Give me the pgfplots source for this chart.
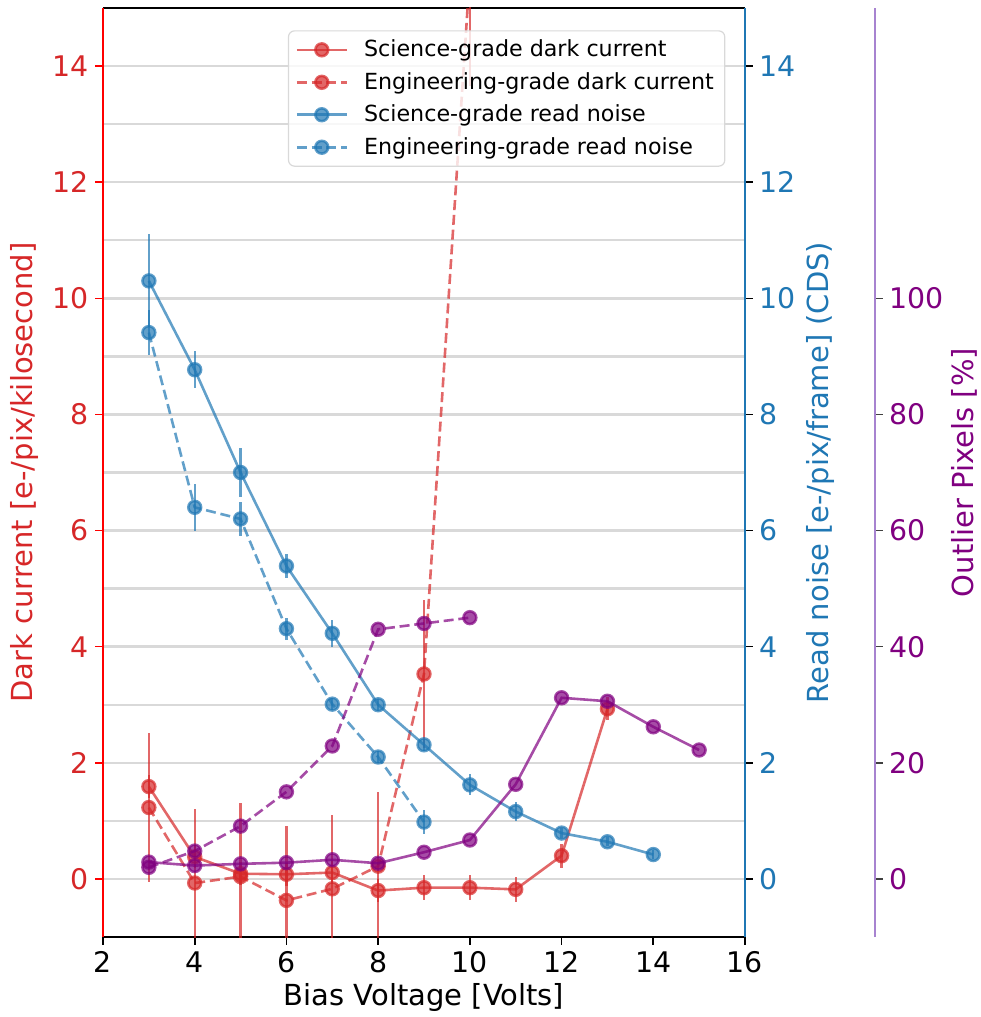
\documentclass[border=0pt]{standalone}
\usepackage{fontspec}
\setmainfont{DejaVu Sans}
\usepackage{pgfplots}
\pgfplotsset{compat=1.18}
\usepackage{pgfplotstable}
\definecolor{cred}{HTML}{D62728}
\definecolor{cblue}{HTML}{1F77B4}
\definecolor{cpurp}{HTML}{800080}
\definecolor{cspine}{HTML}{A783D0}
\definecolor{cgrid}{HTML}{D9D9D9}

\pgfplotstableread{
x y e
3 1.59 0.2
4 0.38 0.2
5 0.09 0.2
6 0.08 0.2
7 0.11 0.2
8 -0.20 0.2
9 -0.15 0.22
10 -0.15 0.22
11 -0.18 0.22
12 0.40 0.21
13 2.93 0.2
}\sdc
\pgfplotstableread{
x y e
3 1.23 1.28
4 -0.07 1.28
5 0.04 1.27
6 -0.37 1.28
7 -0.17 1.27
8 0.22 1.28
9 3.53 1.27
10 15.6 1.95
}\edc
\pgfplotstableread{
x y e
3 10.30 0.8
4 8.77 0.32
5 7.00 0.42
6 5.39 0.2
7 4.23 0.23
8 3.00 0.1
9 2.31 0.1
10 1.62 0.18
11 1.16 0.17
12 0.79 0.08
13 0.64 0.08
14 0.42 0.08
}\srn
\pgfplotstableread{
x y e
3 9.41 0.39
4 6.40 0.4
5 6.20 0.3
6 4.31 0.19
7 3.01 0.1
8 2.10 0.1
9 0.98 0.2
}\ern
\pgfplotstableread{
x y
3 2.9
4 2.3
5 2.6
6 2.8
7 3.3
8 2.7
9 4.6
10 6.7
11 16.3
12 31.2
13 30.6
14 26.2
15 22.2
}\sop
\pgfplotstableread{
x y
3 2.0
4 4.8
5 9.1
6 15.0
7 22.9
8 43.0
9 44.0
10 45.0
}\eop

\pgfplotsset{
  common/.style={
    scale only axis, width=321pt, height=464.5pt,
    xmin=2, xmax=16,
    tick align=outside, major tick length=3.8pt, minor tick length=0pt,
    every tick/.style={line width=0.8pt},
    tick label style={font=\fontsize{14.2}{16}\selectfont},
    label style={font=\fontsize{14.5}{17}\selectfont},
    /pgf/number format/assume math mode=true,
    clip marker paths=true,
  },
  mk/.style={mark=*, mark size=3.2pt, line width=1.3pt, opacity=0.7, mark options={solid}},
  dsh/.style={dash pattern=on 5pt off 2.4pt},
  eb/.style={error bars/y dir=both, error bars/y explicit, error bars/error mark=none,
    error bars/error bar style={line width=1.2pt, solid, opacity=0.7}},
}

\begin{document}
\begin{tikzpicture}
\path[use as bounding box] (-51.5pt,-40pt) rectangle (438.5pt,468.5pt);

% main axis: dark current
\begin{axis}[common,
  ymin=-1, ymax=15, ytick={0,2,...,14}, minor ytick={1,3,...,13},
  xtick={2,4,...,16},
  ymajorgrids, yminorgrids,
  major grid style={cgrid, line width=1.2pt},
  minor grid style={cgrid, line width=1.2pt},
  xtick pos=bottom, ytick pos=left,
  separate axis lines,
  x axis line style={black, line width=0.8pt},
  y axis line style={red, line width=0.8pt},
  every y tick/.append style={red},
  yticklabel style={cred},
  ylabel={Dark current [e-/pix/kilosecond]},
  ylabel style={cred, at={(axis description cs:-0.1215,0.5)}, anchor=center},
  xlabel={Bias Voltage [Volts]},
  xlabel style={at={(axis description cs:0.5,-0.0646)}, anchor=center},
]
\addplot[cred, mk, eb] table[x=x, y=y, y error=e] {\sdc};
\addplot[cred, mk, dsh, eb] table[x=x, y=y, y error=e] {\edc};
\end{axis}

% second axis: read noise
\begin{axis}[common,
  ymin=-1, ymax=15, ytick={0,2,...,14},
  axis y line*=right, axis x line=none,
  y axis line style={cblue, line width=0.8pt},
  yticklabel style={cblue},
  every y tick/.append style={black},
  ylabel={Read noise [e-/pix/frame] (CDS)},
  ylabel style={cblue, rotate=0, at={(axis description cs:1.117,0.5)}, anchor=center},
]
\addplot[cblue, mk, eb] table[x=x, y=y, y error=e] {\srn};
\addplot[cblue, mk, dsh, eb] table[x=x, y=y, y error=e] {\ern};
\end{axis}

% third axis: outlier pixels data + legend
\begin{axis}[common, hide axis,
  ymin=-10, ymax=150,
  legend style={at={(0.288,0.976)}, anchor=north west, draw=black!15, line width=0.6pt,
    fill=white, fill opacity=0.8, text opacity=1, rounded corners=3pt,
    font=\fontsize{11.1}{13.3}\selectfont, row sep=2.3pt, inner xsep=3.5pt, inner ysep=2.5pt,
    /tikz/column 1/.style={column sep=6pt}},
  legend cell align=left,
  legend image code/.code={\draw[mark repeat=2, mark phase=2, #1] plot coordinates {(0pt,0pt) (12.5pt,0pt) (25pt,0pt)};},
]
\addlegendimage{cred, mk}
\addlegendentry{Science-grade dark current}
\addlegendimage{cred, mk, dsh}
\addlegendentry{Engineering-grade dark current}
\addlegendimage{cblue, mk}
\addlegendentry{Science-grade read noise}
\addlegendimage{cblue, mk, dsh}
\addlegendentry{Engineering-grade read noise}
\addplot[cpurp, mk, forget plot] table[x=x, y=y] {\sop};
\addplot[cpurp, mk, dsh, forget plot] table[x=x, y=y] {\eop};
\end{axis}

% fourth axis: outlier spine
\begin{axis}[common, xshift=65pt,
  ymin=-10, ymax=150, ytick={0,20,...,100},
  axis y line*=right, axis x line=none,
  y axis line style={cspine, line width=0.8pt},
  yticklabel style={cpurp},
  every y tick/.append style={black!75},
  ylabel={Outlier Pixels [\%]},
  ylabel style={cpurp, at={(axis description cs:1.140,0.5)}, anchor=center},
]
\addplot[draw=none, forget plot] coordinates {(3,0)};
\end{axis}
\end{tikzpicture}
\end{document}
